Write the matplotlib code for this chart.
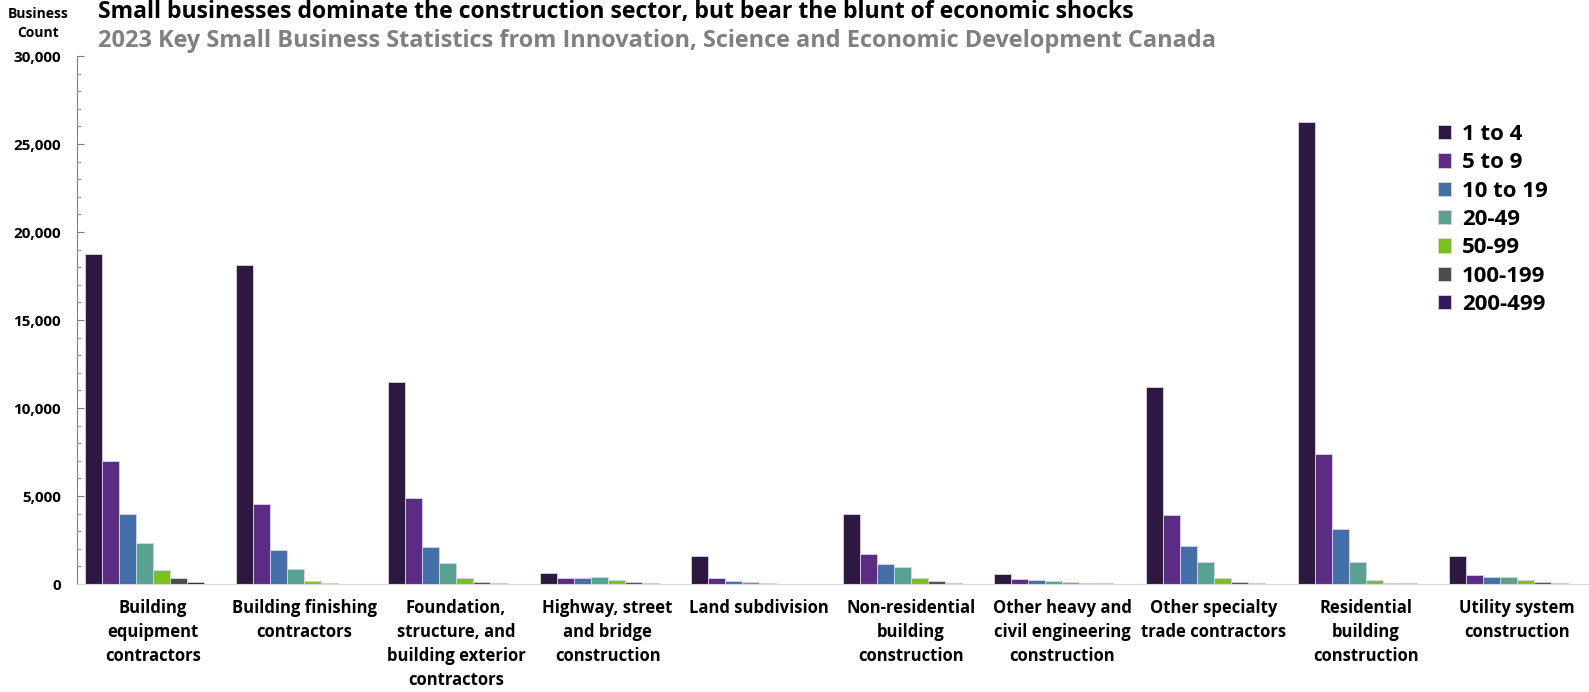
import matplotlib
matplotlib.use("Agg")
from matplotlib import pyplot as plt
from matplotlib.ticker import MultipleLocator, FuncFormatter
import numpy as np

plt.rcParams['font.family'] = ['Open Sans', 'DejaVu Sans']
plt.rcParams['font.weight'] = 'bold'

categories = [
    "Building\nequipment\ncontractors",
    "Building finishing\ncontractors",
    "Foundation,\nstructure, and\nbuilding exterior\ncontractors",
    "Highway, street\nand bridge\nconstruction",
    "Land subdivision",
    "Non-residential\nbuilding\nconstruction",
    "Other heavy and\ncivil engineering\nconstruction",
    "Other specialty\ntrade contractors",
    "Residential\nbuilding\nconstruction",
    "Utility system\nconstruction",
]

size_labels = ["1 to 4", "5 to 9", "10 to 19", "20-49", "50-99", "100-199", "200-499", "500+"]

s_1_4 = [18770, 18120, 11460, 625, 1590, 3980, 570, 11210, 26250, 1590]
s_5_9 = [6970, 4570, 4890, 340, 320, 1690, 285, 3940, 7410, 490]
s_10_19 = [4000, 1950, 2100, 320, 190, 1160, 210, 2140, 3130, 380]
s_20_49 = [2330, 830, 1210, 380, 115, 950, 170, 1250, 1250, 400]
s_50_99 = [780, 190, 340, 210, 75, 320, 95, 360, 230, 230]
s_100_199 = [320, 40, 95, 115, 20, 150, 40, 130, 75, 95]
s_200_499 = [115, 20, 57, 38, 10, 75, 40, 38, 38, 57]
s_500_plus = [20, 10, 20, 19, 10, 20, 10, 20, 20, 20]

series = [s_1_4, s_5_9, s_10_19, s_20_49, s_50_99, s_100_199, s_200_499, s_500_plus]
colors = ["#2D1842", "#5B2C83", "#4370A8", "#58A291", "#7BC11E", "#4D4D4D", "#36195A", "#EAD9E3"]

fig = plt.figure(figsize=(15.89, 6.92), dpi=100)
ax = fig.add_axes([77 / 1589, 1 - 584 / 692, 1516 / 1589, (584 - 56) / 692])

x = np.arange(len(categories))
w = 0.112
for j, vals in enumerate(series):
    lab = size_labels[j] if j < 7 else "_nolegend_"
    ax.bar(x + (j - 3.5) * w, vals, width=w, color=colors[j],
           edgecolor="#dcd2e6", linewidth=0.6, label=lab)

ax.set_xlim(-0.5, 9.5)
ax.set_ylim(0, 30000)
ax.yaxis.set_major_locator(MultipleLocator(5000))
ax.yaxis.set_minor_locator(MultipleLocator(1000))
ax.yaxis.set_major_formatter(FuncFormatter(lambda v, p: f"{int(v):,}"))
ax.tick_params(axis="y", which="major", direction="in", length=5, width=0.8,
               color="#808080", labelsize=11, pad=11.5)
ax.tick_params(axis="y", which="minor", direction="in", length=3, width=0.6, color="#808080")
ax.set_xticks(x)
ax.set_xticklabels(categories, fontsize=12, linespacing=1.42)
ax.tick_params(axis="x", length=0, pad=11)
for lbl in ax.get_yticklabels():
    lbl.set_fontweight("bold")

ax.spines["top"].set_visible(False)
ax.spines["right"].set_visible(False)
ax.spines["left"].set_color("#808080")
ax.spines["left"].set_linewidth(0.8)
ax.spines["bottom"].set_color("#d9d9d9")
ax.spines["bottom"].set_linewidth(0.8)

leg = ax.legend(loc="upper right", bbox_to_anchor=(0.976, 0.888), frameon=False,
                fontsize=16, handlelength=0.6, handleheight=0.6, handletextpad=0.5,
                labelspacing=0.33, borderaxespad=0)
for t in leg.get_texts():
    t.set_fontweight("bold")

fig.text(98 / 1589, 1 - 18 / 692,
         "Small businesses dominate the construction sector, but bear the blunt of economic shocks",
         fontsize=16.6, fontweight="bold", color="black", va="baseline", ha="left")
fig.text(98 / 1589, 1 - 47 / 692,
         "2023 Key Small Business Statistics from Innovation, Science and Economic Development Canada",
         fontsize=16.9, fontweight="bold", color="#808080", va="baseline", ha="left")
fig.text(38 / 1589, 1 - 14 / 692, "Business", fontsize=10, fontweight="bold", ha="center", va="center")
fig.text(38 / 1589, 1 - 33 / 692, "Count", fontsize=10, fontweight="bold", ha="center", va="center")

fig.savefig("out.png", dpi=100)
